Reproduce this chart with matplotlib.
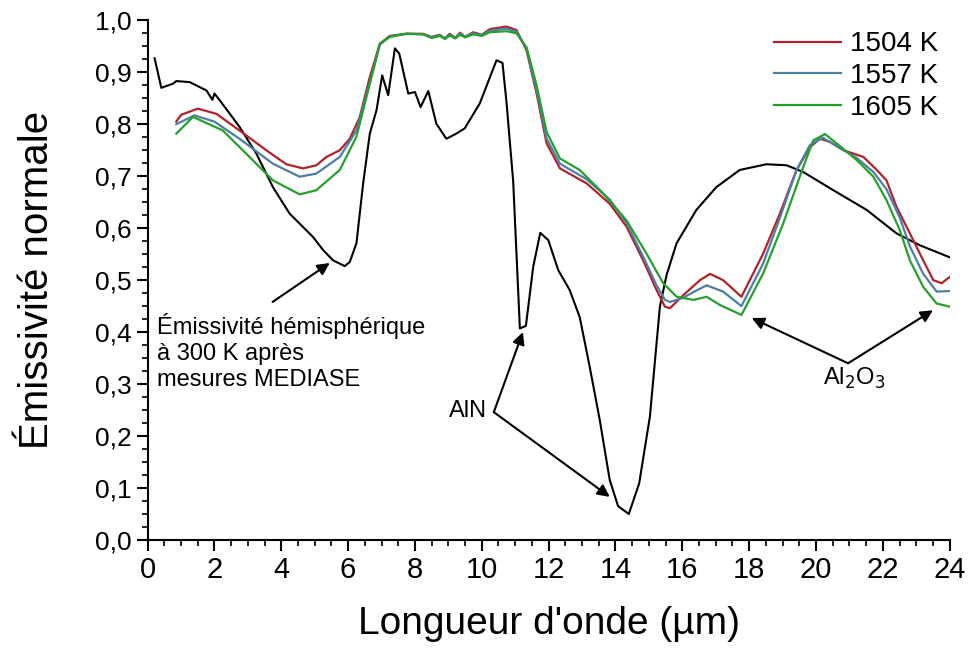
import matplotlib
matplotlib.use("Agg")
import matplotlib.pyplot as plt
from matplotlib.ticker import MultipleLocator, FuncFormatter

# ---- data ----
hemi_x = [0.21, 0.41, 0.76, 0.86, 1.26, 1.76, 1.94, 2.0, 2.16, 2.75, 3.25, 3.75, 4.25, 4.95,
          5.25, 5.55, 5.9, 6.05, 6.25, 6.45, 6.65, 6.85, 7.02, 7.2, 7.4, 7.53, 7.8, 8.0, 8.17,
          8.4, 8.64, 8.94, 9.24, 9.49, 9.94, 10.44, 10.62, 10.74, 10.94, 11.14, 11.32, 11.54,
          11.75, 11.99, 12.29, 12.63, 12.93, 13.23, 13.53, 13.83, 14.08, 14.4, 14.71, 15.03,
          15.33, 15.53, 15.83, 16.42, 17.02, 17.72, 18.52, 19.12, 19.62, 20.52, 21.52, 22.41,
          23.11, 24.0]
hemi_y = [0.927, 0.870, 0.878, 0.883, 0.881, 0.865, 0.847, 0.859, 0.846, 0.795, 0.744, 0.679,
          0.628, 0.583, 0.558, 0.538, 0.527, 0.535, 0.571, 0.686, 0.782, 0.827, 0.894, 0.856,
          0.946, 0.936, 0.859, 0.862, 0.833, 0.864, 0.801, 0.772, 0.782, 0.792, 0.840, 0.923,
          0.918, 0.842, 0.690, 0.407, 0.412, 0.526, 0.591, 0.577, 0.519, 0.481, 0.429, 0.333,
          0.231, 0.115, 0.065, 0.050, 0.109, 0.237, 0.449, 0.510, 0.571, 0.635, 0.679, 0.712,
          0.723, 0.721, 0.708, 0.673, 0.635, 0.590, 0.567, 0.544]

t1504_x = [0.86, 1.0, 1.5, 2.06, 2.75, 3.55, 4.15, 4.65, 5.05, 5.35, 5.75, 6.05, 6.35, 6.65,
           6.95, 7.25, 7.74, 8.24, 8.5, 8.74, 8.9, 9.04, 9.2, 9.35, 9.5, 9.74, 10.0, 10.24,
           10.74, 11.04, 11.34, 11.64, 11.94, 12.34, 13.14, 13.83, 14.33, 14.83, 15.23, 15.48,
           15.63, 16.03, 16.53, 16.83, 17.22, 17.77, 18.42, 18.92, 19.42, 19.82, 20.12, 20.42,
           20.82, 21.42, 21.82, 22.11, 22.41, 22.81, 23.21, 23.51, 23.76, 24.0]
t1504_y = [0.805, 0.818, 0.830, 0.820, 0.788, 0.750, 0.723, 0.715, 0.721, 0.737, 0.750, 0.772,
           0.814, 0.891, 0.955, 0.970, 0.974, 0.974, 0.968, 0.972, 0.965, 0.974, 0.966, 0.976,
           0.968, 0.977, 0.972, 0.983, 0.988, 0.981, 0.942, 0.859, 0.763, 0.715, 0.686, 0.647,
           0.603, 0.538, 0.481, 0.449, 0.446, 0.471, 0.500, 0.512, 0.500, 0.468, 0.551, 0.628,
           0.712, 0.756, 0.772, 0.766, 0.750, 0.737, 0.712, 0.692, 0.641, 0.590, 0.538, 0.500,
           0.494, 0.506]

t1557_x = [0.86, 1.4, 2.0, 2.75, 3.75, 4.55, 5.05, 5.75, 6.25, 6.65, 6.95, 7.25, 7.74, 8.24,
           8.5, 8.74, 8.9, 9.04, 9.2, 9.35, 9.5, 9.74, 10.0, 10.24, 10.74, 11.04, 11.34, 11.64,
           11.94, 12.34, 13.14, 13.83, 14.33, 14.83, 15.23, 15.48, 15.63, 16.03, 16.33, 16.73,
           17.22, 17.77, 18.42, 18.92, 19.42, 19.82, 20.2, 20.62, 21.22, 21.72, 22.11, 22.51,
           22.81, 23.21, 23.61, 24.0]
t1557_y = [0.800, 0.817, 0.805, 0.772, 0.724, 0.699, 0.705, 0.737, 0.788, 0.880, 0.953, 0.969,
           0.974, 0.973, 0.967, 0.971, 0.965, 0.972, 0.966, 0.974, 0.968, 0.975, 0.971, 0.980,
           0.984, 0.978, 0.945, 0.865, 0.772, 0.724, 0.694, 0.655, 0.610, 0.545, 0.490, 0.462,
           0.458, 0.466, 0.477, 0.490, 0.478, 0.450, 0.532, 0.620, 0.712, 0.760, 0.774, 0.758,
           0.735, 0.708, 0.675, 0.620, 0.565, 0.512, 0.478, 0.479]

t1605_x = [0.86, 1.36, 2.25, 3.05, 3.75, 4.55, 5.05, 5.75, 6.25, 6.65, 6.95, 7.25, 7.74, 8.24,
           8.5, 8.74, 8.9, 9.04, 9.2, 9.35, 9.5, 9.74, 10.0, 10.24, 10.74, 11.04, 11.34, 11.64,
           11.94, 12.34, 12.93, 13.63, 14.33, 14.93, 15.43, 15.83, 16.33, 16.73, 17.13, 17.77,
           18.42, 19.02, 19.62, 19.92, 20.27, 20.62, 21.22, 21.72, 22.11, 22.51, 22.81, 23.21,
           23.61, 24.0]
t1605_y = [0.782, 0.814, 0.788, 0.737, 0.692, 0.665, 0.673, 0.712, 0.776, 0.878, 0.955, 0.968,
           0.974, 0.973, 0.966, 0.970, 0.964, 0.971, 0.965, 0.972, 0.967, 0.973, 0.970, 0.977,
           0.979, 0.975, 0.948, 0.875, 0.785, 0.734, 0.712, 0.667, 0.615, 0.551, 0.494, 0.468,
           0.462, 0.468, 0.452, 0.433, 0.513, 0.609, 0.718, 0.769, 0.781, 0.763, 0.731, 0.699,
           0.654, 0.596, 0.538, 0.487, 0.455, 0.449]

series_labels = ["1504 K", "1557 K", "1605 K"]
x_ticks = [0, 2, 4, 6, 8, 10, 12, 14, 16, 18, 20, 22, 24]
y_ticks = [0.0, 0.1, 0.2, 0.3, 0.4, 0.5, 0.6, 0.7, 0.8, 0.9, 1.0]

# ---- figure ----
fig = plt.figure(figsize=(9.71, 6.48), dpi=100)
ax = fig.add_axes([0.152, 0.1667, 0.826, 0.802])

ax.plot(hemi_x, hemi_y, color="black", lw=1.5)
ax.plot(t1504_x, t1504_y, color="#b0232a", lw=1.6, label=series_labels[0])
ax.plot(t1557_x, t1557_y, color="#4d7ea8", lw=1.6, label=series_labels[1])
ax.plot(t1605_x, t1605_y, color="#23a12a", lw=1.6, label=series_labels[2])

ax.set_xlim(0, 24)
ax.set_ylim(0, 1.0)
ax.set_xticks(x_ticks)
ax.set_yticks(y_ticks)
ax.xaxis.set_minor_locator(MultipleLocator(0.5))
ax.yaxis.set_minor_locator(MultipleLocator(0.025))
ax.yaxis.set_major_formatter(FuncFormatter(lambda v, p: f"{v:.1f}".replace(".", ",")))

for s in ["top", "right"]:
    ax.spines[s].set_visible(False)
for s in ["left", "bottom"]:
    ax.spines[s].set_linewidth(1.5)
ax.tick_params(which="major", direction="out", length=8, width=1.5)
ax.tick_params(which="minor", direction="out", length=4, width=1.2)

regular = ["Liberation Sans", "DejaVu Sans"]
for lab in ax.get_xticklabels():
    lab.set_fontfamily(regular)
    lab.set_fontsize(21)
for lab in ax.get_yticklabels():
    lab.set_fontfamily(regular)
    lab.set_fontsize(19)

ax.set_xlabel("Longueur d'onde (µm)", fontfamily=regular, fontsize=28, labelpad=16)
ax.set_ylabel("Émissivité normale", fontfamily=regular, fontsize=29, labelpad=28)

leg = ax.legend(loc="upper right", bbox_to_anchor=(1.0, 1.0), frameon=False,
                prop={"family": regular, "size": 20}, handlelength=2.4,
                handletextpad=0.35, labelspacing=0.2, borderaxespad=0.0)

aprops = dict(arrowstyle="-|>", mutation_scale=18, lw=1.5, color="black",
              shrinkA=0, shrinkB=0)

ax.text(0.27, 0.437, "Émissivité hémisphérique\nà 300 K après\nmesures MEDIASE",
        fontfamily=regular, fontsize=17, va="top", ha="left", linespacing=1.25)
ax.annotate("", xy=(5.45, 0.533), xytext=(3.74, 0.458), arrowprops=aprops)

ax.text(9.58, 0.248, "AlN", fontfamily=regular, fontsize=17, ha="center", va="center")
ax.annotate("", xy=(11.23, 0.40), xytext=(10.36, 0.246), arrowprops=aprops)
ax.annotate("", xy=(13.83, 0.083), xytext=(10.36, 0.246), arrowprops=aprops)

ax.text(21.14, 0.311, "Al$_2$O$_3$", fontfamily=regular, fontsize=17, ha="center",
        va="center")
ax.annotate("", xy=(18.08, 0.427), xytext=(20.96, 0.340), arrowprops=aprops)
ax.annotate("", xy=(23.5, 0.442), xytext=(20.96, 0.340), arrowprops=aprops)

fig.savefig("out.png", dpi=100)
